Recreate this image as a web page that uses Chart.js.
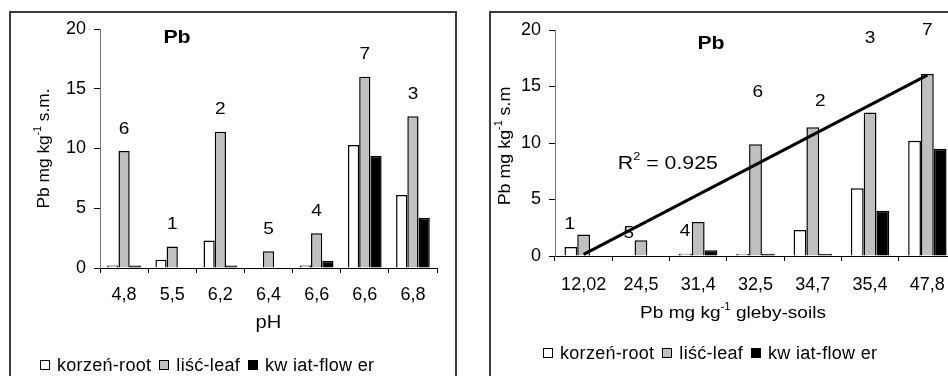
<!DOCTYPE html>
<html>
<head>
<meta charset="utf-8">
<script src="https://cdn.jsdelivr.net/npm/chart.js@4.4.0/dist/chart.umd.min.js"></script>
<style>
  body { margin: 0; width: 948px; height: 376px; overflow: hidden; position: relative; background: #fff; font-family: 'Liberation Sans', Arial, sans-serif; }
  .frame { position: absolute; border: 2px solid #3c3c3c; box-sizing: border-box; }
  canvas { position: absolute; top: 0; }
  .legend { position: absolute; display: flex; align-items: center; height: 20px; font-size: 18px; letter-spacing: 0.3px; color: #000; white-space: pre; }
  .legend i { display: inline-block; width: 10px; height: 10px; border: 1px solid #000; box-sizing: border-box; margin-right: 7px; }
  .legend span { display: flex; align-items: center; margin-right: 8px; }
</style>
</head>
<body>
<div class="frame" style="left:9px; top:11px; width:448px; height:420px"></div>
<div class="frame" style="left:489px; top:11px; width:500px; height:420px"></div>
<canvas id="phChart" width="470" height="376" style="left:0"></canvas>
<canvas id="soilChart" width="500" height="376" style="left:478px"></canvas>

<div class="legend" id="legendPh" style="left:40px; top:355px"></div>
<div class="legend" id="legendSoil" style="left:543px; top:343px"></div>

<script>
// left chart: Pb in plants vs soil pH
const phLabels = ['4,8', '5,5', '6,2', '6,4', '6,6', '6,6', '6,8'];
const phRoot = [0.2, 0.7, 2.3, 0, 0.2, 10.3, 6.1];
const phLeaf = [9.8, 1.8, 11.4, 1.4, 2.9, 16.0, 12.7];
const phFlower = [0.2, 0, 0.2, 0, 0.6, 9.4, 4.2];
const phSiteNo = ['6', '1', '2', '5', '4', '7', '3'];

// right chart: Pb in plants vs Pb in soil
const soilLabels = ['12,02', '24,5', '31,4', '32,5', '34,7', '35,4', '47,8'];
const soilRoot = [0.8, 0, 0.2, 0.2, 2.3, 6.0, 10.2];
const soilLeaf = [1.9, 1.4, 3.0, 9.9, 11.4, 12.7, 16.1];
const soilFlower = [0, 0, 0.5, 0.2, 0.2, 4.0, 9.5];
const soilSiteNo = ['1', '5', '4', '6', '2', '3', '7'];
const soilSiteY = [2.8, 2.0, 2.2, 14.5, 13.7, 19.3, 20.0];
const soilSiteShift = [-0.24, -0.21, -0.23, 0.04, 0.13, 0.0, 0.0];
const soilTrend = [0.15, null, null, null, null, null, 16.0];
const rSquared = '0.925';

const yTicks = [0, 5, 10, 15, 20];
const seriesNames = ['korzeń-root', 'liść-leaf', 'kw iat-flow er'];
const seriesColors = ['#ffffff', '#c0c0c0', '#000000'];

const FONT = "'Liberation Sans', Arial, sans-serif";

// text with superscript parts ('^' prefix), centred on x,y, stretched a bit like the scan
function drawText(ctx, parts, x, y, size, opt) {
  opt = opt || {};
  const weight = opt.bold ? 'bold ' : '';
  ctx.save();
  ctx.translate(x, y);
  if (opt.rotate) ctx.rotate(opt.rotate);
  ctx.scale(opt.sx || 1.12, 1);
  ctx.fillStyle = '#000';
  ctx.textBaseline = 'middle';
  ctx.textAlign = 'left';
  const widths = parts.map(p => {
    const sup = p[0] === '^';
    ctx.font = weight + (sup ? size * 0.6 : size) + 'px ' + FONT;
    return ctx.measureText(sup ? p.slice(1) : p).width;
  });
  let cx = -widths.reduce((a, b) => a + b, 0) / 2;
  parts.forEach((p, i) => {
    const sup = p[0] === '^';
    ctx.font = weight + (sup ? size * 0.6 : size) + 'px ' + FONT;
    ctx.fillText(sup ? p.slice(1) : p, cx, sup ? -size * 0.35 : 0);
    cx += widths[i];
  });
  ctx.restore();
}

function barSets(root, leaf, flower) {
  return [root, leaf, flower].map((d, i) => ({
    type: 'bar',
    label: seriesNames[i],
    data: d,
    backgroundColor: seriesColors[i],
    borderColor: '#000',
    borderWidth: 1.5,
    order: 1
  }));
}

function makeOptions(yWidth, xHeight, pad, catPct, xPad) {
  return {
    responsive: false,
    devicePixelRatio: 1,
    animation: false,
    layout: { padding: pad, autoPadding: false },
    datasets: { bar: { categoryPercentage: catPct, barPercentage: 1 } },
    plugins: { legend: { display: false }, tooltip: { enabled: false } },
    scales: {
      x: {
        grid: { drawOnChartArea: false, tickLength: 5, tickColor: '#000', offset: true },
        border: { color: '#000', width: 1 },
        ticks: { color: '#000', font: { family: FONT, size: 18 }, padding: xPad, maxRotation: 0 },
        afterFit: s => { s.height = xHeight; }
      },
      y: {
        min: 0, max: 20,
        afterBuildTicks: s => { s.ticks = yTicks.map(v => ({ value: v })); },
        grid: { drawOnChartArea: false, tickLength: 6, tickColor: '#000' },
        border: { color: '#777', width: 1 },
        ticks: { color: '#000', font: { family: FONT, size: 18 }, padding: 8 },
        afterFit: s => { s.width = yWidth; }
      }
    }
  };
}

function fillLegend(id) {
  const el = document.getElementById(id);
  seriesNames.forEach((n, i) => {
    const s = document.createElement('span');
    s.innerHTML = '<i style="background:' + seriesColors[i] + '"></i>' + n;
    el.appendChild(s);
  });
}

new Chart(document.getElementById('phChart'), {
  type: 'bar',
  data: { labels: phLabels, datasets: barSets(phRoot, phLeaf, phFlower) },
  options: makeOptions(100, 108, { top: 29, right: 33, left: 0, bottom: 0 }, 0.7, 11),
  plugins: [{
    id: 'phNotes',
    afterDraw(chart) {
      const ctx = chart.ctx, a = chart.chartArea;
      const leafBars = chart.getDatasetMeta(1).data;
      phSiteNo.forEach((t, i) => {
        drawText(ctx, [t], leafBars[i].x, leafBars[i].y - 22, 17);
      });
      drawText(ctx, ['Pb'], a.left + 77, a.top + 9, 19, { bold: true });
      drawText(ctx, ['Pb mg kg', '^-1', ' s.m.'], a.left - 56, (a.top + a.bottom) / 2, 17, { rotate: -Math.PI / 2, sx: 1.02 });
      drawText(ctx, ['pH'], (a.left + a.right) / 2, a.bottom + 55, 18);
    }
  }]
});

const soilSets = barSets(soilRoot, soilLeaf, soilFlower);
soilSets.push({
  type: 'line',
  label: 'trend',
  data: soilTrend,
  spanGaps: true,
  borderColor: '#000',
  borderWidth: 3,
  pointRadius: 0,
  order: 0
});

new Chart(document.getElementById('soilChart'), {
  type: 'bar',
  data: { labels: soilLabels, datasets: soilSets },
  options: makeOptions(77, 120, { top: 30, right: 22, left: 0, bottom: 0 }, 0.67, 13),
  plugins: [{
    id: 'soilNotes',
    afterDraw(chart) {
      const ctx = chart.ctx, a = chart.chartArea;
      const xs = chart.scales.x, ys = chart.scales.y;
      const step = xs.getPixelForValue(1) - xs.getPixelForValue(0);
      soilSiteNo.forEach((t, i) => {
        drawText(ctx, [t], xs.getPixelForValue(i) + soilSiteShift[i] * step, ys.getPixelForValue(soilSiteY[i]), 17);
      });
      drawText(ctx, ['R', '^2', ' = ' + rSquared], xs.getPixelForValue(1) + 0.47 * step, ys.getPixelForValue(8.2), 19);
      drawText(ctx, ['Pb'], a.left + 156, a.top + 14, 19, { bold: true });
      drawText(ctx, ['Pb mg kg', '^-1', ' s.m'], a.left - 50, (a.top + a.bottom) / 2 + 3, 17, { rotate: -Math.PI / 2, sx: 1.05 });
      drawText(ctx, ['Pb mg kg', '^-1', ' gleby-soils'], a.left + 178, a.bottom + 57, 17);
    }
  }]
});

fillLegend('legendPh');
fillLegend('legendSoil');
</script>
</body>
</html>
